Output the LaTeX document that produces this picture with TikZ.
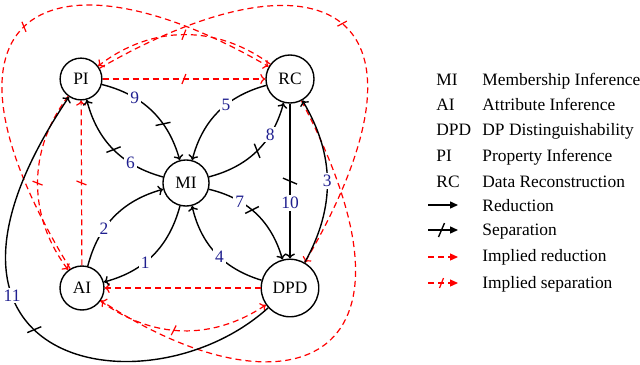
\documentclass[tikz,border=0pt]{standalone}
\usepackage{fontspec}
\setmainfont{Liberation Serif}
\definecolor{implied}{HTML}{FF0000}
\definecolor{edgenum}{HTML}{1F1F8F}
\usetikzlibrary{arrows.meta, decorations.markings}
\tikzset{
  attack/.style={
    circle, draw, line width=0.7pt, minimum size=18.5pt, inner sep=4pt,
    font=\fontsize{8.7}{10}\selectfont
  },
  redu/.style={-{To[length=2.5pt,width=5pt]}, line width=0.7pt},
  impl/.style={-{To[length=2.5pt,width=5pt]}, color=implied,
    dash pattern=on 3pt off 2pt, line width=0.6pt},
  cut/.style={postaction={decorate}, decoration={markings,
    mark=at position #1 with {\draw[solid,-] (-1.5pt,-3.5pt) -- (1.5pt,3.5pt);}}},
  cut/.default=0.5,
  icut/.style={postaction={decorate}, decoration={markings,
    mark=at position #1 with {\draw[solid,-] (-1pt,-2.5pt) -- (1pt,2.5pt);}}},
  icut/.default=0.5,
  num/.style={fill=white, text=edgenum, inner sep=1pt, font=\fontsize{8.7}{10}\selectfont},
  legtxt/.style={anchor=base west, inner sep=0pt, font=\fontsize{8.7}{10}\selectfont},
  legtip/.style={-{Triangle[length=4pt,width=3.5pt]}},
}

\begin{document}
\begin{tikzpicture}[x=0.5pt, y=0.5pt]
  \useasboundingbox (0,0) rectangle (640,-364);

  % Attacks
  \node[attack] (PI) at (81,-79) {PI};
  \node[attack] (RC) at (290,-79) {RC};
  \node[attack] (MI) at (186,-183) {MI};
  \node[attack] (AI) at (82,-288) {AI};
  \node[attack] (DPD) at (290,-288) {DPD};

  % Implied relations
  \draw[impl, icut] (PI) -- (RC);
  \draw[impl, icut] (RC) to[bend right=37] (PI);
  \draw[impl, icut] (AI) -- (PI);
  \draw[impl, icut] (PI) to[bend right=37] (AI);
  \draw[impl] (DPD) -- (AI);
  \draw[impl, icut=0.45] (AI) to[bend right=35] (DPD);
  \draw[impl, icut] (AI) .. controls (-88,-10) and (50,60) .. (RC);
  \draw[impl, icut] (PI) .. controls (322,60) and (452,-10) .. (DPD);
  \draw[impl] (RC) .. controls (443,-370) and (282,-420) .. (AI);

  % Reductions and separations
  \draw[redu] (MI) to[bend left=30] node[num, pos=0.6] {1} (AI);
  \draw[redu] (AI) to[bend left=30] node[num, pos=0.35] {2} (MI);
  \draw[redu] (DPD) to[bend right=30] node[num, pos=0.5] {3} (RC);
  \draw[redu] (DPD) to[bend left=30] node[num, pos=0.45] {4} (MI);
  \draw[redu] (RC) to[bend right=30] node[num, pos=0.4] {5} (MI);
  \draw[redu, cut=0.5] (MI) to[bend left=30] node[num, pos=0.3] {6} (PI);
  \draw[redu, cut=0.45] (MI) to[bend left=30] node[num, pos=0.3] {7} (DPD);
  \draw[redu, cut=0.5] (MI) to[bend right=30] node[num, pos=0.7] {8} (RC);
  \draw[redu, cut=0.65] (PI) to[bend left=30] node[num, pos=0.3] {9} (MI);
  \draw[redu, cut=0.5] (RC) -- node[num, pos=0.64] {10} (DPD);
  \draw[redu, cut=0.5] (DPD) .. controls (150,-415) and (-115,-370) .. (PI)
    node[num, pos=0.67] {11};

  % Legend
  \node[legtxt] (kMI) at (436,-85) {MI};
  \node[legtxt] (dMI) at (482,-85) {Membership Inference};
  \node[legtxt] (kAI) at (436,-110) {AI};
  \node[legtxt] (dAI) at (482,-110) {Attribute Inference};
  \node[legtxt] (kDPD) at (436,-135) {DPD};
  \node[legtxt] (dDPD) at (482,-135) {DP Distinguishability};
  \node[legtxt] (kPI) at (436,-161) {PI};
  \node[legtxt] (dPI) at (482,-161) {Property Inference};
  \node[legtxt] (kRC) at (436,-187) {RC};
  \node[legtxt] (dRC) at (482,-187) {Data Reconstruction};

  \coordinate (redA) at (428,-205);  \coordinate (redB) at (458,-205);
  \coordinate (sepA) at (428,-230);  \coordinate (sepB) at (458,-230);
  \coordinate (iredA) at (428,-257); \coordinate (iredB) at (458,-257);
  \coordinate (isepA) at (428,-283); \coordinate (isepB) at (458,-283);
  \draw[redu, legtip] (redA) -- (redB);
  \draw[redu, legtip, cut=0.45] (sepA) -- (sepB);
  \draw[impl, legtip] (iredA) -- (iredB);
  \draw[impl, legtip, icut=0.45] (isepA) -- (isepB);
  \node[legtxt] (lred) at (482,-211) {Reduction};
  \node[legtxt] (lsep) at (482,-235) {Separation};
  \node[legtxt] (lired) at (482,-261) {Implied reduction};
  \node[legtxt] (lisep) at (482,-288) {Implied separation};
\end{tikzpicture}
\end{document}
